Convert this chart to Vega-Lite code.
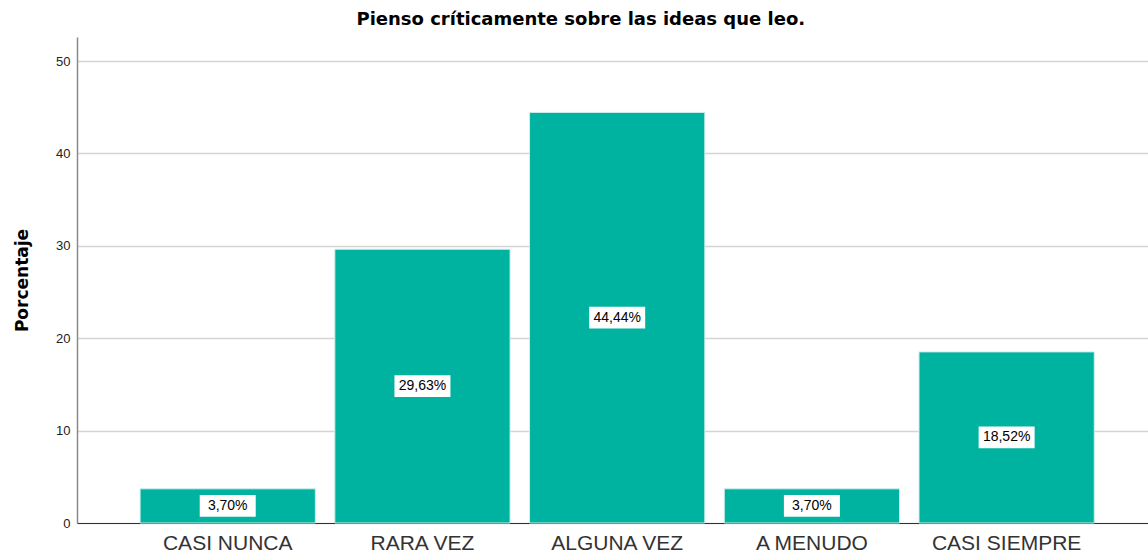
{
  "$schema": "https://vega.github.io/schema/vega-lite/v6.json",
  "width": 1071,
  "height": 486,
  "autosize": {"type": "none"},
  "padding": {"left": 77, "top": 37, "right": 0, "bottom": 30},
  "background": "white",
  "title": {
    "text": "Pienso críticamente sobre las ideas que leo.",
    "font": "DejaVu Sans",
    "fontSize": 18,
    "fontWeight": "bold",
    "color": "#000000",
    "anchor": "middle",
    "frame": "bounds",
    "offset": 8
  },
  "config": {
    "view": {"stroke": null},
    "font": "Liberation Sans"
  },
  "data": {
    "values": [
      {"categoria": "CASI NUNCA", "porcentaje": 3.70, "etiqueta": "3,70%"},
      {"categoria": "RARA VEZ", "porcentaje": 29.63, "etiqueta": "29,63%"},
      {"categoria": "ALGUNA VEZ", "porcentaje": 44.44, "etiqueta": "44,44%"},
      {"categoria": "A MENUDO", "porcentaje": 3.70, "etiqueta": "3,70%"},
      {"categoria": "CASI SIEMPRE", "porcentaje": 18.52, "etiqueta": "18,52%"}
    ]
  },
  "encoding": {
    "x": {
      "field": "categoria",
      "type": "nominal",
      "sort": null,
      "scale": {"paddingInner": 0.1, "paddingOuter": 0.3, "align": 0.54},
      "axis": {
        "title": null,
        "labelAngle": 0,
        "labelFont": "Liberation Sans",
        "labelFontSize": 21,
        "labelColor": "#333333",
        "labelPadding": 9,
        "ticks": false,
        "domainColor": "#333333",
        "domainWidth": 1.2,
        "grid": false
      }
    }
  },
  "layer": [
    {
      "mark": {"type": "bar", "color": "#00b3a1", "stroke": "#cfeee9", "strokeWidth": 1},
      "encoding": {
        "y": {
          "field": "porcentaje",
          "type": "quantitative",
          "scale": {"domain": [0, 52.6], "nice": false},
          "axis": {
            "title": "Porcentaje",
            "titleFont": "DejaVu Sans",
            "titleFontSize": 17,
            "titleFontWeight": "bold",
            "titleColor": "#000000",
            "titlePadding": 24,
            "values": [0, 10, 20, 30, 40, 50],
            "labelFontSize": 13,
            "labelColor": "#222222",
            "labelPadding": 7,
            "ticks": false,
            "domainColor": "#8a8a8a",
            "domainWidth": 1.5,
            "gridColor": "#d4d4d4",
            "gridWidth": 1.5
          }
        }
      }
    },
    {
      "mark": {"type": "point", "shape": "M-1,-0.39H1V0.39H-1Z", "filled": true, "color": "white", "opacity": 1, "size": 3136},
      "encoding": {
        "y": {
          "field": "porcentaje",
          "type": "quantitative",
          "scale": {"domain": [0, 105.2], "nice": false},
          "axis": null
        }
      }
    },
    {
      "mark": {"type": "text", "fontSize": 14, "color": "#000000", "baseline": "middle", "align": "center"},
      "encoding": {
        "y": {
          "field": "porcentaje",
          "type": "quantitative",
          "scale": {"domain": [0, 105.2], "nice": false},
          "axis": null
        },
        "text": {"field": "etiqueta", "type": "nominal"}
      }
    }
  ],
  "resolve": {"scale": {"y": "independent"}}
}
